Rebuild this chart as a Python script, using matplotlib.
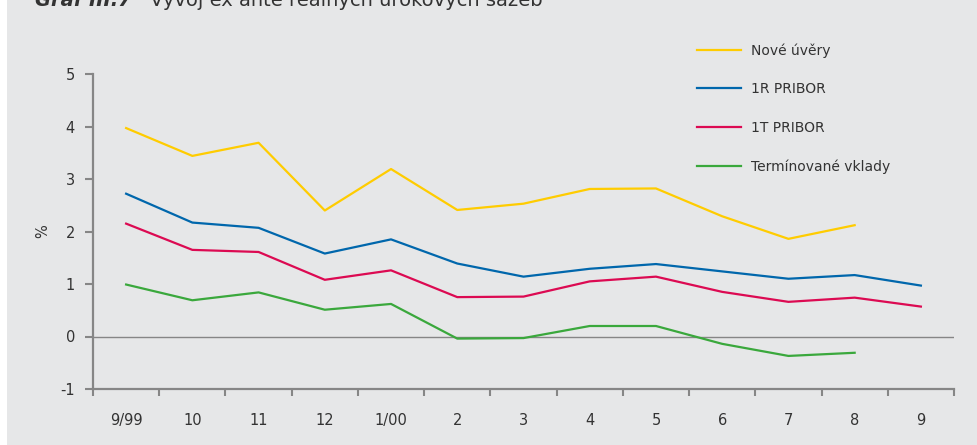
import matplotlib.pyplot as plt
import numpy as np
from matplotlib.patches import Rectangle

# data
months = ['9/99', '10', '11', '12', '1/00', '2', '3', '4', '5', '6', '7', '8', '9']
nove_uvery = [3.97, 3.44, 3.69, 2.40, 3.19, 2.41, 2.53, 2.81, 2.82, 2.29, 1.86, 2.12, np.nan]
pribor_1r = [2.72, 2.17, 2.07, 1.58, 1.85, 1.39, 1.14, 1.29, 1.38, 1.24, 1.10, 1.17, 0.97]
pribor_1t = [2.15, 1.65, 1.61, 1.08, 1.26, 0.75, 0.76, 1.05, 1.14, 0.85, 0.66, 0.74, 0.57]
vklady = [0.99, 0.69, 0.84, 0.51, 0.62, -0.04, -0.03, 0.20, 0.20, -0.14, -0.37, -0.31, np.nan]

bg = '#e6e7e8'
axis_col = '#868686'
text_col = '#333333'
fonts = ['Liberation Sans Narrow', 'DejaVu Sans']
plt.rcParams['font.family'] = fonts
plt.rcParams['axes.unicode_minus'] = False


def main():
    fig = plt.figure(figsize=(9.78, 4.45), dpi=100, facecolor='white')
    # grey panel, white strip on the left edge
    fig.patches.append(Rectangle((7 / 978, 0), 1, 1, transform=fig.transFigure,
                                 facecolor=bg, edgecolor='none', zorder=-10))

    ax = fig.add_axes([93 / 978, 1 - 389 / 445, (954 - 93) / 978, (389 - 74) / 445])
    ax.set_facecolor(bg)
    ax.patch.set_alpha(0)

    x = np.arange(len(months))
    ax.axhline(0, color=axis_col, lw=1.0, zorder=1)
    ax.plot(x, nove_uvery, color='#ffcc00', lw=1.6, label='Nové úvěry', zorder=3)
    ax.plot(x, pribor_1r, color='#0067ac', lw=1.6, label='1R PRIBOR', zorder=3)
    ax.plot(x, pribor_1t, color='#dc0a52', lw=1.6, label='1T PRIBOR', zorder=3)
    ax.plot(x, vklady, color='#3aa83c', lw=1.6, label='Termínované vklady', zorder=3)

    ax.set_xlim(-0.5, len(months) - 0.5)
    ax.set_ylim(-1, 5)
    ax.set_yticks([-1, 0, 1, 2, 3, 4, 5])
    ax.set_xticks(np.arange(-0.5, len(months), 1.0))
    ax.set_xticklabels([])
    ax.set_xticks(x, minor=True)
    ax.set_xticklabels(months, minor=True)
    ax.tick_params(axis='x', which='major', direction='out', length=5, width=1.5, color=axis_col)
    ax.tick_params(axis='x', which='minor', length=0, pad=17, labelsize=10.5, labelcolor=text_col)
    ax.tick_params(axis='y', direction='out', length=6, width=1.5, color=axis_col,
                   labelsize=10.5, labelcolor=text_col, pad=7)

    for s in ['top', 'right']:
        ax.spines[s].set_visible(False)
    for s in ['left', 'bottom']:
        ax.spines[s].set_color(axis_col)
        ax.spines[s].set_linewidth(1.6)

    ax.set_ylabel('%', fontsize=10.5, color=text_col, labelpad=7)

    fig.legend(loc='upper left', bbox_to_anchor=(697 / 978, 1 - 43 / 445),
               frameon=False, fontsize=10, handlelength=3.2, handletextpad=0.7,
               labelspacing=1.78, borderpad=0, borderaxespad=0, labelcolor=text_col)

    # title, cut off at the top edge as in the original
    fig.text(35 / 978, 1.0, 'Graf III.7  ', fontsize=14, fontweight='bold', style='italic',
             color=text_col, va='center', ha='left')
    fig.text(150 / 978, 1.0, 'Vývoj ex ante reálných úrokových sazeb', fontsize=14,
             color=text_col, va='center', ha='left')

    plt.savefig('out.png', dpi=100, facecolor=fig.get_facecolor())


if __name__ == "__main__":
    main()
